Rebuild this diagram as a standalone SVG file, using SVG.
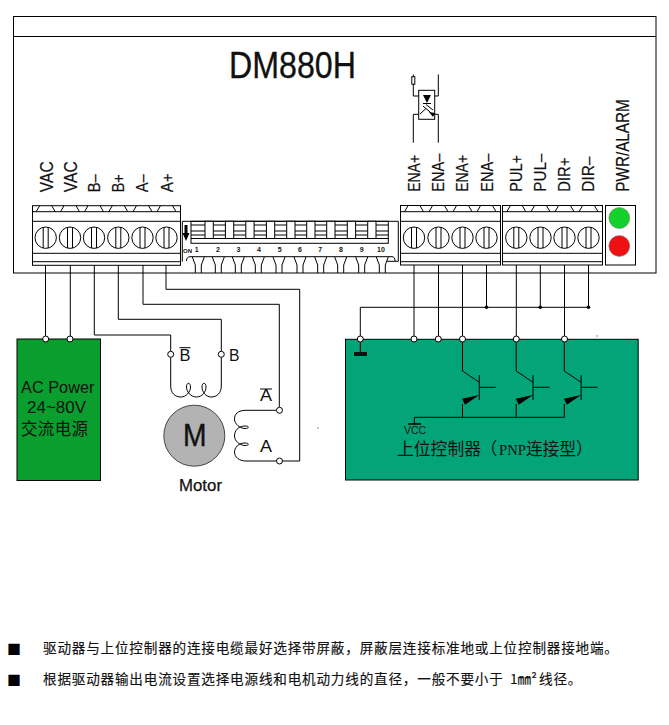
<svg xmlns="http://www.w3.org/2000/svg" xmlns:xlink="http://www.w3.org/1999/xlink" width="669" height="725" viewBox="0 0 669 725">
<style>
.l{fill:none;stroke:#000;stroke-width:1}
.w{fill:#fff;stroke:#000;stroke-width:1}
.o{fill:#fff;stroke:#000;stroke-width:1}
text{font-family:"Liberation Sans","Noto Sans CJK SC",sans-serif;fill:#111}
.rt{font-size:16.5px;stroke:#111;stroke-width:.2}
.n{font-size:7px;font-weight:bold;text-anchor:middle}
.cn{font-family:"Noto Sans CJK SC",sans-serif;font-size:13.6px;letter-spacing:.8px;stroke:#111;stroke-width:.15}
.bu{font-family:"Noto Sans CJK SC",sans-serif;font-size:14px;fill:#000}
</style>
<defs>
<g id="screw">
<path class="l" d="M-9.5 -26 L-6 -32 M6 -32 L9.5 -26"/>
<circle class="l" r="10.7"/>
<path class="l" d="M-2.5 -10.4 V10.4 M2.5 -10.4 V10.4"/>
</g>
<g id="tooth"><path class="l" d="M-6 257 L-3 265 V273 M6 257 L3 265 V273"/></g>
<g id="transistor">
<path class="l" d="M462.5 339 V371 L479.3 382.3 M479.3 375 V400 M479.3 387.3 H495.7 M462.5 404 V417.3"/>
<polygon points="462,398.7 465,404.7 479.3,395" fill="#000"/>
</g>
</defs>

<g id="driver">
<rect class="l" x="13.5" y="16.5" width="642.5" height="256.5"/>
<path class="l" d="M13.5 36.5 H656"/>
<text x="229" y="78" font-size="36" textLength="127" lengthAdjust="spacingAndGlyphs" stroke="#111" stroke-width=".3">DM880H</text>
</g>

<g id="optocoupler">
<path class="l" d="M413.3 74.5 V96 H418.7 M438.3 74.5 V96 H434.7 M413.3 142.7 V114.3 H418.7 M438.3 142.7 V114.3 H434.7"/>
<rect class="w" x="411.8" y="76.7" width="3" height="7.5"/>
<rect class="l" x="418.7" y="90.3" width="16" height="29"/>
<polygon points="423,95 431,95 427,103" fill="#000"/>
<path class="l" stroke-width="1.6" d="M423 103.5 H431 M423 106 L430 112 M426 104.5 L433 110 M420 114 L426 108.5 M428 110 L433 115"/>
<polygon points="429,112 435,113 433,117" fill="#000"/>
</g>

<g id="labels-left">
<text class="rt" style="font-size:18px" transform="translate(52.7 192.3) rotate(-90)" textLength="31" lengthAdjust="spacingAndGlyphs">VAC</text>
<text class="rt" style="font-size:18px" transform="translate(77 192.3) rotate(-90)" textLength="31" lengthAdjust="spacingAndGlyphs">VAC</text>
<text class="rt" transform="translate(100 192.3) rotate(-90)" textLength="18" lengthAdjust="spacingAndGlyphs">B–</text>
<text class="rt" transform="translate(124 192.3) rotate(-90)" textLength="18" lengthAdjust="spacingAndGlyphs">B+</text>
<text class="rt" transform="translate(148.3 192.3) rotate(-90)" textLength="18" lengthAdjust="spacingAndGlyphs">A–</text>
<text class="rt" transform="translate(173 192.3) rotate(-90)" textLength="19" lengthAdjust="spacingAndGlyphs">A+</text>
</g>
<g id="labels-right">
<text class="rt" transform="translate(420 191.7) rotate(-90)" textLength="36.7" lengthAdjust="spacingAndGlyphs">ENA+</text>
<text class="rt" transform="translate(444 191.7) rotate(-90)" textLength="38" lengthAdjust="spacingAndGlyphs">ENA–</text>
<text class="rt" transform="translate(468 191.7) rotate(-90)" textLength="36.7" lengthAdjust="spacingAndGlyphs">ENA+</text>
<text class="rt" transform="translate(492.5 191.7) rotate(-90)" textLength="38" lengthAdjust="spacingAndGlyphs">ENA–</text>
<text class="rt" transform="translate(521.7 191.7) rotate(-90)" textLength="36.7" lengthAdjust="spacingAndGlyphs">PUL+</text>
<text class="rt" transform="translate(546 191.7) rotate(-90)" textLength="38" lengthAdjust="spacingAndGlyphs">PUL–</text>
<text class="rt" transform="translate(570 191.7) rotate(-90)" textLength="34" lengthAdjust="spacingAndGlyphs">DIR+</text>
<text class="rt" transform="translate(594.3 191.7) rotate(-90)" textLength="35" lengthAdjust="spacingAndGlyphs">DIR–</text>
<text class="rt" style="font-size:17.5px" transform="translate(629.3 191.7) rotate(-90)" textLength="92.4" lengthAdjust="spacingAndGlyphs">PWR/ALARM</text>
</g>

<g id="terminal-left">
<rect class="l" x="32.5" y="205.7" width="148" height="59.6"/>
<path class="l" d="M32.5 211.7 H180.5 M32.5 221.3 H180.5 M32.5 253.3 H180.5 M32.5 261.7 H180.5"/>
<use xlink:href="#screw" href="#screw" x="45.7" y="237.7"/>
<use xlink:href="#screw" href="#screw" x="70" y="237.7"/>
<use xlink:href="#screw" href="#screw" x="94" y="237.7"/>
<use xlink:href="#screw" href="#screw" x="118.3" y="237.7"/>
<use xlink:href="#screw" href="#screw" x="142.5" y="237.7"/>
<use xlink:href="#screw" href="#screw" x="166.5" y="237.7"/>
</g>

<g id="dip-switch">
<path class="l" d="M182.3 261.7 V221.3 H398.3 V261.3 H386.7 M186.5 261 Q186.5 256.7 190 256.7 H392 Q395 256.7 395 261"/>
<rect class="l" x="191" y="221.3" width="197.3" height="22"/>
<path class="l" d="M191 225 H388.3 M191 231 H388.3 M191 235 H388.3 M191 238.5 H388.3"/>
<rect class="w" x="205" y="221.3" width="8.3" height="17.2"/>
<rect class="w" x="225.4" y="221.3" width="8.3" height="17.2"/>
<rect class="w" x="245.8" y="221.3" width="8.3" height="17.2"/>
<rect class="w" x="266.4" y="221.3" width="8.3" height="17.2"/>
<rect class="w" x="286.7" y="221.3" width="8.3" height="17.2"/>
<rect class="w" x="306.7" y="221.3" width="8.3" height="17.2"/>
<rect class="w" x="326.7" y="221.3" width="8.3" height="17.2"/>
<rect class="w" x="347.3" y="221.3" width="8.3" height="17.2"/>
<rect class="w" x="367.7" y="221.3" width="8.3" height="17.2"/>
<polygon points="184.5,225 187.5,225 187.5,233 189.5,233 186,241 182.5,233 184.5,233" fill="#000"/>
<text x="183" y="253" style="font-size:6px;font-weight:bold">ON</text>
<text class="n" x="196.7" y="252">1</text>
<text class="n" x="218" y="252">2</text>
<text class="n" x="238.5" y="252">3</text>
<text class="n" x="259" y="252">4</text>
<text class="n" x="279.7" y="252">5</text>
<text class="n" x="300" y="252">6</text>
<text class="n" x="320.3" y="252">7</text>
<text class="n" x="341" y="252">8</text>
<text class="n" x="361.7" y="252">9</text>
<text class="n" x="381" y="252">10</text>
<use xlink:href="#tooth" href="#tooth" x="198.3"/>
<use xlink:href="#tooth" href="#tooth" x="218.3"/>
<use xlink:href="#tooth" href="#tooth" x="238.3"/>
<use xlink:href="#tooth" href="#tooth" x="258.3"/>
<use xlink:href="#tooth" href="#tooth" x="279"/>
<use xlink:href="#tooth" href="#tooth" x="300"/>
<use xlink:href="#tooth" href="#tooth" x="320.7"/>
<use xlink:href="#tooth" href="#tooth" x="340.7"/>
<use xlink:href="#tooth" href="#tooth" x="361.7"/>
<use xlink:href="#tooth" href="#tooth" x="382.3"/>
</g>

<g id="terminal-ena">
<rect class="l" x="400.5" y="205.5" width="100" height="59.5"/>
<path class="l" d="M400.5 211.7 H500.5 M400.5 221.3 H500.5 M400.5 253.3 H500.5 M400.5 261.7 H500.5"/>
<use xlink:href="#screw" href="#screw" x="414" y="237.7"/>
<use xlink:href="#screw" href="#screw" x="438.5" y="237.7"/>
<use xlink:href="#screw" href="#screw" x="462.5" y="237.7"/>
<use xlink:href="#screw" href="#screw" x="486.5" y="237.7"/>
</g>
<g id="terminal-pul">
<rect class="l" x="502.5" y="205.5" width="100" height="59.5"/>
<path class="l" d="M502.5 211.7 H602.5 M502.5 221.3 H602.5 M502.5 253.3 H602.5 M502.5 261.7 H602.5"/>
<use xlink:href="#screw" href="#screw" x="516.3" y="237.7"/>
<use xlink:href="#screw" href="#screw" x="540.5" y="237.7"/>
<use xlink:href="#screw" href="#screw" x="564.5" y="237.7"/>
<use xlink:href="#screw" href="#screw" x="588.5" y="237.7"/>
</g>
<g id="status-leds">
<rect class="l" x="605.5" y="205.5" width="30" height="59.5"/>
<circle cx="619.3" cy="218" r="10.5" fill="#12d12a" stroke="#888" stroke-width=".6"/>
<circle cx="619.3" cy="246" r="10.5" fill="#ee1111" stroke="#888" stroke-width=".6"/>
</g>

<g id="ac-power">
<rect x="17" y="339" width="83.5" height="141.5" fill="#0a9e2e" stroke="#000" stroke-width="1"/>
<text x="21" y="393" font-size="17" textLength="73.5" lengthAdjust="spacingAndGlyphs">AC Power</text>
<text x="27" y="413" font-size="17" textLength="59" lengthAdjust="spacingAndGlyphs">24~80V</text>
<text x="21" y="435" font-size="16.5" textLength="67" style="font-family:'Noto Sans CJK SC',sans-serif">交流电源</text>
</g>

<g id="controller">
<rect x="345.5" y="339.3" width="292.7" height="140.7" fill="#03a478" stroke="#000" stroke-width="1"/>
<path class="l" d="M360.3 339 V352"/>
<rect x="354" y="352" width="13" height="4" fill="#111"/>
<use xlink:href="#transistor" href="#transistor"/>
<use xlink:href="#transistor" href="#transistor" x="53.7"/>
<use xlink:href="#transistor" href="#transistor" x="101.8"/>
<path class="l" d="M414.3 424 V417.3 H564.5"/>
<path d="M408 424 H421" stroke="#000" stroke-width="1.6"/>
<text x="404" y="434" font-size="10" textLength="22" lengthAdjust="spacingAndGlyphs">VCC</text>
<text y="455" font-size="16.8" style="font-family:'Noto Sans CJK SC',sans-serif"><tspan x="397" textLength="84">上位控制器</tspan><tspan x="480.5">（</tspan><tspan x="499" font-size="15" style="font-family:'Liberation Serif',serif" textLength="27" lengthAdjust="spacingAndGlyphs">PNP</tspan><tspan x="526" textLength="50">连接型</tspan><tspan x="576">）</tspan></text>
</g>

<g id="motor">
<circle cx="194.3" cy="435.7" r="30.5" fill="#b3b3b3" stroke="#444" stroke-width="1"/>
<text x="183" y="445.7" font-size="32" textLength="23.5" lengthAdjust="spacingAndGlyphs" stroke="#111" stroke-width=".4">M</text>
<text x="179" y="490.7" font-size="16" textLength="43" lengthAdjust="spacingAndGlyphs" stroke="#111" stroke-width=".25">Motor</text>
<path class="l" d="M170.7 357.3 V386 C170.7 393 175 397 181 397 C186 397 190.5 392 190.5 387 C190.5 382 186.5 382 186.5 387 C186.5 392 191 397 196.5 397 C202 397 206 392 206 387 C206 382 202 382 202 387 C202 392 206 397 211 397 C217 397 221.3 393 221.3 386 V357.3"/>
<path class="l" d="M276.5 410.3 H246 C238 410.3 234.5 414 234.5 419 C234.5 424 240 428.5 245 428.5 C249.5 428.5 249.5 426 245 426 C238 426 234.5 431 234.5 436 C234.5 441 240 445.5 245 445.5 C249.5 445.5 249.5 443 245 443 C238 443 234.5 448 234.5 452 C234.5 457 239 461 246 461 H276.5"/>
<text x="179.5" y="360.7" font-size="17" textLength="11" lengthAdjust="spacingAndGlyphs">B</text>
<path class="l" d="M179.5 347.7 H190.5"/>
<text x="229" y="360.7" font-size="17" textLength="10.5" lengthAdjust="spacingAndGlyphs">B</text>
<text x="260" y="400.7" font-size="17" textLength="12" lengthAdjust="spacingAndGlyphs">A</text>
<path class="l" d="M260 389 H272"/>
<text x="260" y="451.7" font-size="17" textLength="12" lengthAdjust="spacingAndGlyphs">A</text>
</g>

<g id="connectors">
<path class="l" d="M45.5 265 V339 M70.3 265 V339"/>
<path class="l" d="M94.3 265 V335 H170.7 V351"/>
<path class="l" d="M118.3 265 V319.3 H221.3 V351"/>
<path class="l" d="M143 265 V304.3 H279.3 V407"/>
<path class="l" d="M166 265 V289.3 H299.7 V461 H282.5"/>
<path class="l" d="M414 265 V339 M438.5 265 V339 M462.5 265 V339 M486.5 265 V307.3"/>
<path class="l" d="M516.3 265 V339 M540.3 265 V307.3 M564.5 265 V339 M588.5 265 V307.3"/>
<path class="l" d="M360.3 339 V307.3 H588.5"/>
<circle cx="486.5" cy="307.3" r="1.8" fill="#000"/>
<circle cx="540.3" cy="307.3" r="1.8" fill="#000"/>
<circle cx="588.5" cy="307.3" r="1.8" fill="#000"/>
<circle class="o" cx="45.7" cy="339" r="3"/>
<circle class="o" cx="70" cy="339" r="3"/>
<circle class="o" cx="360.3" cy="339" r="3"/>
<circle class="o" cx="414" cy="339" r="3"/>
<circle class="o" cx="438.3" cy="339" r="3"/>
<circle class="o" cx="462.5" cy="339" r="3"/>
<circle class="o" cx="516.3" cy="339" r="3"/>
<circle class="o" cx="564.5" cy="339" r="3"/>
<circle class="o" cx="170.7" cy="354.3" r="3"/>
<circle class="o" cx="221.3" cy="354.3" r="3"/>
<circle class="o" cx="279.5" cy="410.3" r="3"/>
<circle class="o" cx="279.5" cy="461" r="3"/>
</g>

<rect x="317.5" y="427.5" width="1" height="1" fill="#222"/>
<rect x="596.5" y="335.5" width="1" height="1" fill="#222"/>

<g id="notes">
<text class="bu" x="7" y="654">■</text>
<text class="bu" x="7" y="685">■</text>
<text class="cn" x="43" y="653">驱动器与上位控制器的连接电缆最好选择带屏蔽，屏蔽层连接标准地或上位控制器接地端。</text>
<text class="cn" x="43" y="684">根据驱动器输出电流设置选择电源线和电机动力线的直径，一般不要小于<tspan x="510" letter-spacing="0">1㎜²</tspan><tspan x="539">线径。</tspan></text>
</g>
</svg>
